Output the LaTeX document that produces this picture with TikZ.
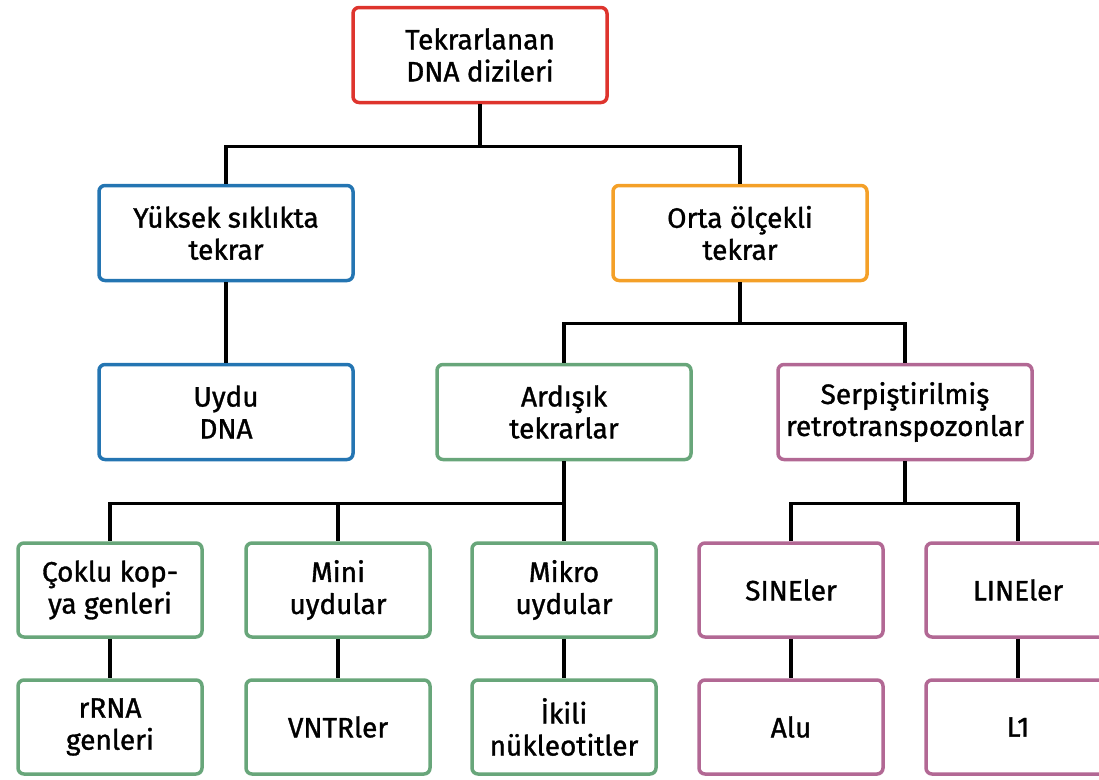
\documentclass[tikz,border=0pt]{standalone}
\usepackage{fontspec}
\setmainfont{Fira Sans}[UprightFeatures={FakeBold=1.2}]
\usetikzlibrary{calc}

\definecolor{kirmizi}{RGB}{222,52,45}
\definecolor{mavi}{RGB}{36,117,178}
\definecolor{turuncu}{RGB}{244,160,40}
\definecolor{yesil}{RGB}{104,166,122}
\definecolor{mor}{RGB}{178,104,148}

\tikzset{
  kutu/.style={draw=#1, line width=3.5pt, rounded corners=6pt, fill=white,
    align=center, inner sep=0pt, font=\fontsize{28}{32}\selectfont},
  buyuk/.style={kutu=#1, minimum width=254pt, minimum height=95pt},
  kucuk/.style={kutu=#1, minimum width=184pt, minimum height=94pt},
  baglanti/.style={line width=3.5pt}
}

\begin{document}
\begin{tikzpicture}[x=1pt,y=-1pt]
    \useasboundingbox (0,0) rectangle (1099,779);
    \clip (0,0) rectangle (1099,779);

    % ust seviyeler
    \node[buyuk=kirmizi] (dna) at (480,55) {Tekrarlanan\\DNA dizileri};
    \node[buyuk=mavi] (yuksek) at (226,233) {Yüksek sıklıkta\\tekrar};
    \node[buyuk=turuncu] (orta) at (740,233) {Orta ölçekli\\tekrar};
    \node[buyuk=mavi] (uydu) at (226,412) {Uydu\\DNA};
    \node[buyuk=yesil] (ardisik) at (564,412) {Ardışık\\tekrarlar};
    \node[buyuk=mor] (serp) at (905,412) {Serpiştirilmiş\\retrotranspozonlar};

    % alt seviyeler
    \node[kucuk=yesil] (coklu) at (110,590) {Çoklu kop-\\ya genleri};
    \node[kucuk=yesil] (mini) at (338,590) {Mini\\uydular};
    \node[kucuk=yesil] (mikro) at (564,590) {Mikro\\uydular};
    \node[kucuk=mor] (sine) at (791,590) {SINEler};
    \node[kucuk=mor] (line) at (1018,590) {LINEler};

    \node[kucuk=yesil] (rrna) at (110,727) {rRNA\\genleri};
    \node[kucuk=yesil] (vntr) at (338,727) {VNTRler};
    \node[kucuk=yesil] (ikili) at (564,727) {İkili\\nükleotitler};
    \node[kucuk=mor] (alu) at (791,727) {Alu};
    \node[kucuk=mor] (l1) at (1018,727) {L1};

    % baglantilar
    \draw[baglanti] (dna.south) -- ++(0,42) -| (yuksek.north);
    \draw[baglanti] (dna.south) -- ++(0,42) -| (orta.north);
    \draw[baglanti] (yuksek.south) -- (uydu.north);
    \draw[baglanti] (orta.south) -- ++(0,41) -| (ardisik.north);
    \draw[baglanti] (orta.south) -- ++(0,41) -| (serp.north);
    \draw[baglanti] (ardisik.south) -- ++(0,42) -| (coklu.north);
    \draw[baglanti] (ardisik.south) -- ++(0,42) -| (mini.north);
    \draw[baglanti] (ardisik.south) -- (mikro.north);
    \draw[baglanti] (serp.south) -- ++(0,42) -| (sine.north);
    \draw[baglanti] (serp.south) -- ++(0,42) -| (line.north);
    \draw[baglanti] (coklu.south) -- (rrna.north);
    \draw[baglanti] (mini.south) -- (vntr.north);
    \draw[baglanti] (mikro.south) -- (ikili.north);
    \draw[baglanti] (sine.south) -- (alu.north);
    \draw[baglanti] (line.south) -- (l1.north);
\end{tikzpicture}
\end{document}
